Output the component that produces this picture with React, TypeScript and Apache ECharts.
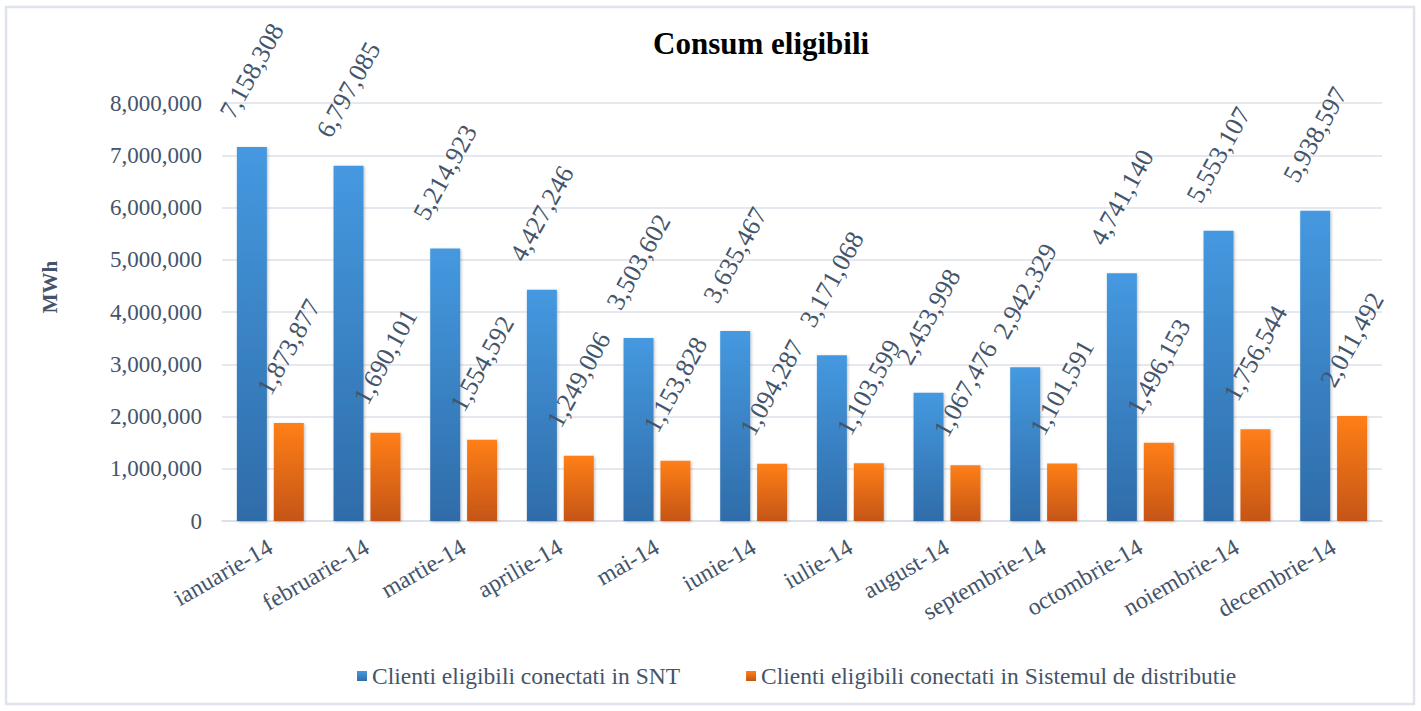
import React, { useEffect, useRef } from "react";
import * as echarts from "echarts";

const categories = [
  "ianuarie-14", "februarie-14", "martie-14", "aprilie-14", "mai-14", "iunie-14",
  "iulie-14", "august-14", "septembrie-14", "octombrie-14", "noiembrie-14", "decembrie-14",
];
const sntValues = [7158308, 6797085, 5214923, 4427246, 3503602, 3635467, 3171068, 2453998, 2942329, 4741140, 5553107, 5938597];
const distValues = [1873877, 1690101, 1554592, 1249006, 1153828, 1094287, 1103599, 1067476, 1101591, 1496153, 1756544, 2011492];
const seriesNames = ["Clienti eligibili conectati in SNT", "Clienti eligibili conectati in Sistemul de distributie"];

const FONT = "Liberation Serif, Times New Roman, serif";
const TXT = "#44546a";
const fmt = (v: number) => v.toLocaleString("en-US");

export default function App() {
  const ref = useRef<HTMLDivElement>(null);
  useEffect(() => {
    if (!ref.current) return;
    const chart = echarts.init(ref.current, null, { renderer: "svg" });
    const label = {
      show: true,
      position: "top" as const,
      distance: 76,
      rotate: 61,
      align: "center",
      verticalAlign: "middle",
      fontFamily: FONT,
      fontSize: 26,
      color: TXT,
      formatter: (p: any) => fmt(p.value),
    };
    chart.setOption({
      animation: false,
      backgroundColor: "#ffffff",
      textStyle: { fontFamily: FONT },
      title: {
        text: "Consum eligibili",
        left: 648,
        top: 23,
        textStyle: { fontFamily: FONT, fontSize: 31, fontWeight: "bold", color: "#000000" },
      },
      graphic: [
        {
          type: "rect",
          shape: { x: 6, y: 7, width: 1408, height: 697 },
          style: { fill: "none", stroke: "#dfe3ec", lineWidth: 2.5 },
          silent: true,
        },
        {
          type: "text",
          x: 50,
          y: 287,
          rotation: Math.PI / 2,
          style: {
            text: "MWh",
            fontFamily: FONT,
            fontSize: 21,
            fontWeight: "bold",
            fill: TXT,
            align: "center",
            verticalAlign: "middle",
          },
        },
      ],
      legend: {
        bottom: 18,
        left: 352,
        itemWidth: 10,
        itemHeight: 10,
        itemGap: 66,
        icon: "rect",
        textStyle: { fontFamily: FONT, fontSize: 23.5, color: TXT },
        data: seriesNames,
      },
      grid: { left: 222, right: 39, top: 103, bottom: 190, containLabel: false },
      xAxis: {
        type: "category",
        data: categories,
        axisLine: { lineStyle: { color: "#d9dee8", width: 1.5 } },
        axisTick: { show: false },
        axisLabel: { rotate: 30, margin: 24, fontFamily: FONT, fontSize: 24, color: TXT, interval: 0 },
      },
      yAxis: {
        type: "value",
        min: 0,
        max: 8000000,
        interval: 1000000,
        axisLine: { show: false },
        axisTick: { show: false },
        splitLine: { lineStyle: { color: "#dde2ea", width: 1.5 } },
        axisLabel: { margin: 20, fontFamily: FONT, fontSize: 23, color: TXT, formatter: (v: number) => fmt(v) },
      },
      series: [
        {
          name: seriesNames[0],
          type: "bar",
          data: sntValues,
          barWidth: 30,
          barGap: "23%",
          itemStyle: {
            color: new echarts.graphic.LinearGradient(0, 0, 0, 1, [
              { offset: 0, color: "#4599e0" },
              { offset: 1, color: "#2f6ca9" },
            ]),
            shadowColor: "rgba(0,0,0,0.25)",
            shadowBlur: 3,
            shadowOffsetX: 1,
            shadowOffsetY: 1,
          },
          label,
        },
        {
          name: seriesNames[1],
          type: "bar",
          data: distValues,
          barWidth: 30,
          itemStyle: {
            color: new echarts.graphic.LinearGradient(0, 0, 0, 1, [
              { offset: 0, color: "#ff7f1a" },
              { offset: 1, color: "#c55512" },
            ]),
            shadowColor: "rgba(0,0,0,0.25)",
            shadowBlur: 3,
            shadowOffsetX: 1,
            shadowOffsetY: 1,
          },
          label,
        },
      ],
    });
    return () => chart.dispose();
  }, []);
  return (
    <div
      ref={ref}
      style={{ position: "fixed", left: 0, top: 0, width: 1421, height: 711, background: "#fff" }}
    />
  );
}
